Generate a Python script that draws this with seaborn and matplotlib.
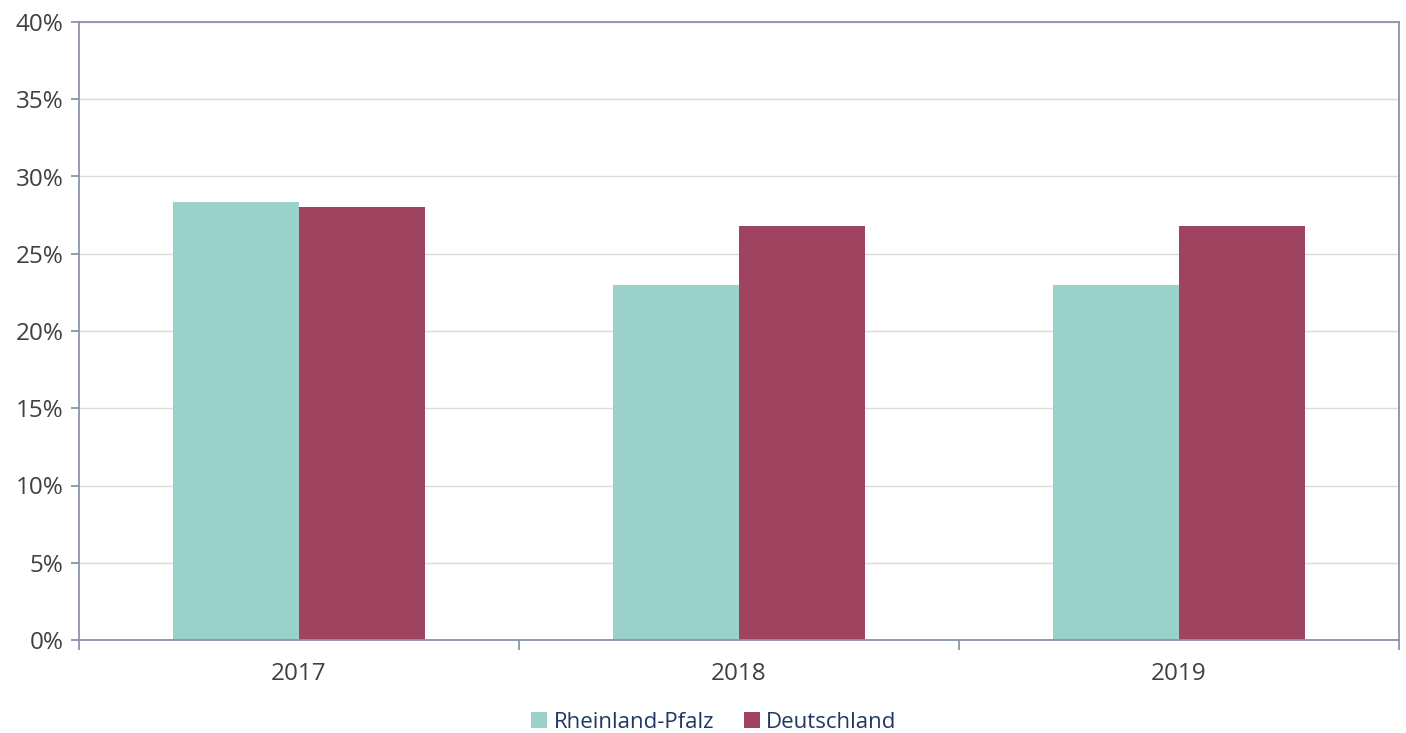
import matplotlib
matplotlib.use("Agg")
import matplotlib.pyplot as plt
import seaborn as sns
import pandas as pd
from matplotlib.ticker import FuncFormatter, MultipleLocator

years = ["2017", "2018", "2019"]
series_names = ["Rheinland-Pfalz", "Deutschland"]
rp_values = [28.35, 22.98, 22.98]
de_values = [28.03, 26.8, 26.8]
colors = ["#9ad1cb", "#9e4461"]

df = pd.DataFrame({
    "Jahr": years * 2,
    "Region": [series_names[0]] * 3 + [series_names[1]] * 3,
    "Wert": rp_values + de_values,
})

sns.set_theme(style="white")
plt.rcParams["font.family"] = ["Open Sans", "DejaVu Sans"]

fig = plt.figure(figsize=(14.06, 7.33), dpi=100)
ax = fig.add_axes([79/1406, (733-640)/733, (1399-79)/1406, (640-22)/733])

sns.barplot(data=df, x="Jahr", y="Wert", hue="Region", palette=colors,
            width=0.573, ax=ax, saturation=1, legend=True, linewidth=0)

ax.set_ylim(0, 40)
ax.set_xlim(-0.5, 2.5)
ax.yaxis.set_major_locator(MultipleLocator(5))
ax.yaxis.set_major_formatter(FuncFormatter(lambda v, p: f"{int(v)}%"))
ax.grid(axis="y", color="#dddbd6", linewidth=1)
ax.set_axisbelow(True)
ax.set_xlabel("")
ax.set_ylabel("")

spine_color = "#8a93a8"
for s in ax.spines.values():
    s.set_color(spine_color)
    s.set_linewidth(1.3)

ax.set_xticks([-0.5, 0.5, 1.5, 2.5], minor=False)
ax.set_xticklabels([])
ax.set_xticks([0, 1, 2], minor=True)
ax.set_xticklabels(years, minor=True)
ax.tick_params(axis="x", which="major", bottom=True, direction="out", length=7,
               color=spine_color, width=1.3)
ax.tick_params(axis="x", which="minor", bottom=True, length=0, pad=16, labelsize=17.5,
               labelcolor="#404040")
ax.tick_params(axis="y", left=True, direction="out", length=6, color=spine_color, width=1.3,
               labelsize=17.5, labelcolor="#404040", pad=5)

handles, labels = ax.get_legend_handles_labels()
ax.legend_.remove()
leg = fig.legend(handles, labels, loc="center", bbox_to_anchor=(714/1406, 1 - 722/733),
                 ncol=2, frameon=False, fontsize=16, handlelength=0.72, handleheight=0.72,
                 handletextpad=0.3, columnspacing=1.3)
for t in leg.get_texts():
    t.set_color("#1f3864")

fig.savefig("out.png", dpi=100)
